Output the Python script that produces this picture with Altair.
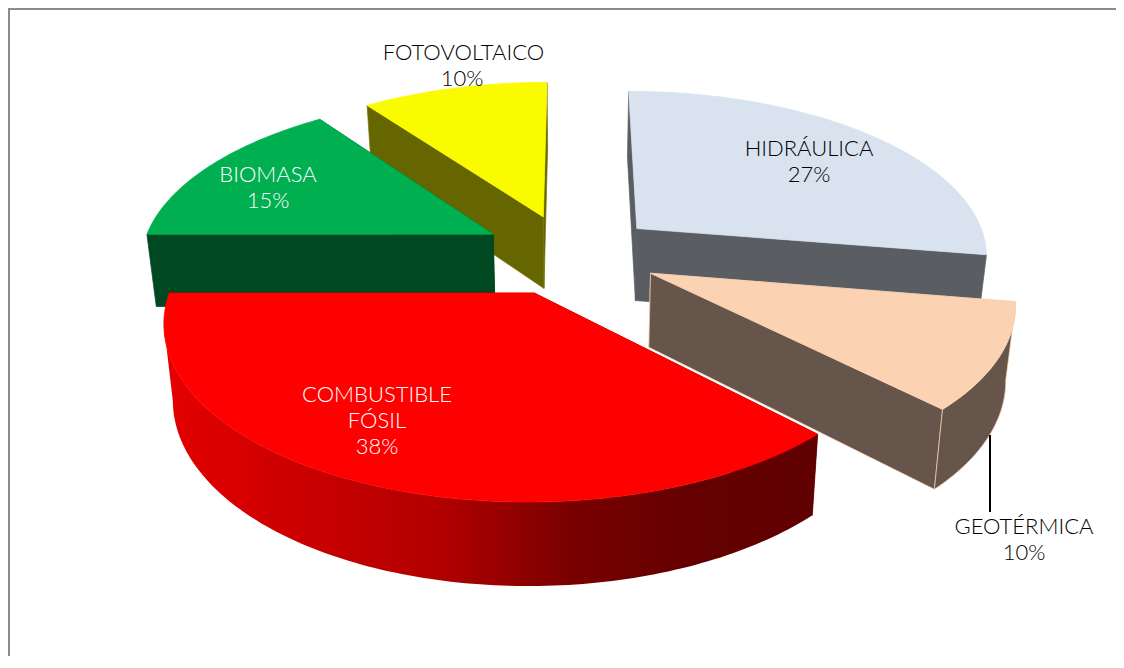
import math
import altair as alt
import pandas as pd

# ---- data (unrounded shares estimated from the slice edges)
categories = ["HIDRÁULICA", "GEOTÉRMICA", "COMBUSTIBLE FÓSIL", "BIOMASA", "FOTOVOLTAICO"]
shares = [27.6, 10.0, 37.4, 15.0, 10.0]
nudge_u = [3, 3, 0, 0, 0]
nudge_w = [0, 0, 0, 0.0018, 0]
top_colors = ["#D9E3F0", "#FBD3B3", "#FF0000", "#00AF50", "#FBFB00"]
side_colors = ["#5A5E63", "#65554A", "#640000", "#004822", "#666600"]
edge_colors = ["#5A5E63", "#FBD3B3", "#640000", "#004822", "#767600"]
paint_order = [4, 0, 3, 1, 2]

label_text = ["FOTOVOLTAICO", "10%", "BIOMASA", "15%", "COMBUSTIBLE", "FÓSIL", "38%",
              "HIDRÁULICA", "27%", "GEOTÉRMICA", "10%"]
label_x = [463.5, 462, 268, 268, 377, 377, 377, 809, 809, 1024, 1024]
label_y = [53, 79, 175, 201, 395, 421, 447, 149, 175, 527, 553]
label_color = ["#000000", "#000000", "white", "white", "white", "white", "white",
               "#000000", "#000000", "#000000", "#000000"]

# ---- perspective camera of the 3-D pie
X0, YV, YS = 573.0, -850.0, 1143.0
RU, RATIO = 365.0, 2362.0
CU, CW = -4.0, 1.0351
EXPLODE = 90.0
SHRINK = 0.978
DEPTH, DEPTH_Y, DEPTH_SLOPE = 72.0, 228.0, 0.044

W_PX, H_PX = 1108, 648


def project(cu, cw, deg, low, on_rim=True):
    t = math.radians(deg)
    u = cu + (RU * math.sin(t) if on_rim else 0)
    w = cw + (RU * math.cos(t) / RATIO if on_rim else 0)
    x = X0 + u / w
    y = YV + YS / w
    if low:
        x = X0 + (x - X0) * SHRINK
        y = y + DEPTH + DEPTH_SLOPE * (y - DEPTH_Y)
    return x, y


X_SCALE = alt.Scale(domain=[8, 8 + W_PX], range=[0, W_PX], nice=False, zero=False)
Y_SCALE = alt.Scale(domain=[8, 8 + H_PX], range=[0, H_PX], nice=False, zero=False)


def polygon(points, **mark):
    pts = list(points) + [points[0]]
    df = pd.DataFrame({"x": [p[0] for p in pts], "y": [p[1] for p in pts], "i": range(len(pts))})
    return alt.Chart(df).mark_line(**mark).encode(
        x=alt.X("x:Q", scale=X_SCALE, axis=None),
        y=alt.Y("y:Q", scale=Y_SCALE, axis=None),
        order=alt.Order("i:Q"),
    )


layers = []
starts = []
acc = 0.0
for s in shares:
    starts.append(acc)
    acc += s * 3.6

for k in paint_order:
    a = starts[k]
    b = a + shares[k] * 3.6
    mid = math.radians((a + b) / 2)
    cu = CU + EXPLODE * math.sin(mid) + nudge_u[k]
    cw = CW + EXPLODE * math.cos(mid) / RATIO + nudge_w[k]
    n = max(2, int(b - a))
    degs = [a + (b - a) * i / n for i in range(n + 1)]

    apex_t = project(cu, cw, 0, False, False)
    apex_b = project(cu, cw, 0, True, False)
    rim_t = [project(cu, cw, d, False) for d in degs]
    rim_b = [project(cu, cw, d, True) for d in degs]

    faces = []
    # the visible outer wall: the stretch of rim whose x runs leftwards (front of the disc)
    front = [i for i in range(n) if rim_t[i + 1][0] < rim_t[i][0]]
    if front:
        i0, i1 = front[0], front[-1] + 1
        wall = rim_t[i0:i1 + 1] + rim_b[i0:i1 + 1][::-1]
        wall_w = sum(cw + RU * math.cos(math.radians(d)) / RATIO for d in degs[i0:i1 + 1]) / (i1 - i0 + 1)
        if categories[k].startswith("COMBUSTIBLE"):
            stops = [
                alt.GradientStop(color="#E40000", offset=0),
                alt.GradientStop(color="#B20000", offset=0.42),
                alt.GradientStop(color="#7A0000", offset=0.62),
                alt.GradientStop(color="#640000", offset=0.8),
                alt.GradientStop(color="#600000", offset=1),
            ]
            grad = alt.LinearGradient(gradient="linear", stops=stops, x1=0, x2=1, y1=0, y2=0)
            wall_style = dict(fill=grad, stroke="#C00000", strokeWidth=0)
        else:
            wall_style = dict(fill=side_colors[k], stroke=edge_colors[k], strokeWidth=0.7)
        faces.append((wall_w, wall, wall_style))
    for d, t_pt, b_pt in ((a, rim_t[0], rim_b[0]), (b, rim_t[-1], rim_b[-1])):
        w_mean = cw + RU * math.cos(math.radians(d)) / RATIO / 2
        faces.append((w_mean, [apex_t, t_pt, b_pt, apex_b],
                      dict(fill=side_colors[k], stroke=edge_colors[k], strokeWidth=0.7)))
    for _, pts, style in sorted(faces, key=lambda f: -f[0]):
        layers.append(polygon(pts, **style))
    layers.append(polygon([apex_t] + rim_t, fill=top_colors[k], stroke=top_colors[k], strokeWidth=0.7))

# frame and leader line
frame_v = alt.Chart(pd.DataFrame({"x": [9], "y": [8], "y2": [8 + H_PX]})).mark_rule(
    color="#8C8C8C", strokeWidth=2
).encode(x=alt.X("x:Q", scale=X_SCALE, axis=None), y=alt.Y("y:Q", scale=Y_SCALE, axis=None), y2="y2:Q")
frame_h = alt.Chart(pd.DataFrame({"x": [8], "x2": [8 + W_PX], "y": [9]})).mark_rule(
    color="#8C8C8C", strokeWidth=2
).encode(x=alt.X("x:Q", scale=X_SCALE, axis=None), x2="x2:Q", y=alt.Y("y:Q", scale=Y_SCALE, axis=None))
leader = alt.Chart(pd.DataFrame({"x": [990], "y": [435], "y2": [512]})).mark_rule(
    color="#000000", strokeWidth=2
).encode(x=alt.X("x:Q", scale=X_SCALE, axis=None), y=alt.Y("y:Q", scale=Y_SCALE, axis=None), y2="y2:Q")

labels = alt.Chart(pd.DataFrame({"t": label_text, "x": label_x, "y": label_y, "c": label_color})).mark_text(
    font="Lato", fontSize=22, fontWeight=300, align="center", baseline="middle"
).encode(
    x=alt.X("x:Q", scale=X_SCALE, axis=None),
    y=alt.Y("y:Q", scale=Y_SCALE, axis=None),
    text="t:N",
    color=alt.Color("c:N", scale=None),
)

chart = alt.layer(frame_v, frame_h, *layers, leader, labels).properties(
    width=W_PX, height=H_PX, padding=0, background="white",
    autosize=alt.AutoSizeParams(type="none"),
).configure_view(stroke=None)

chart.save("out.html", embed_options={"renderer": "svg", "actions": False})
